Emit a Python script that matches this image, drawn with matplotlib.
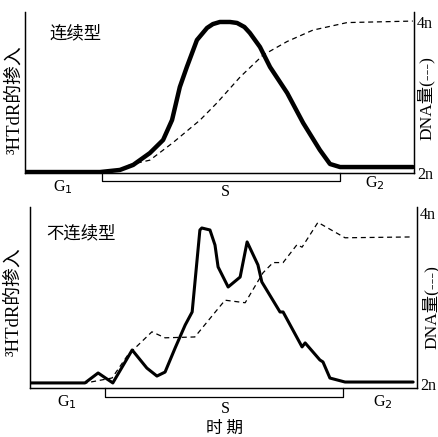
import matplotlib
matplotlib.use('Agg')
import matplotlib.pyplot as plt

plt.rcParams['font.family'] = ['Liberation Serif', 'Noto Sans CJK SC']

# 连续型: time (0-100), 3HTdR incorporation (0-100), DNA content (n)
t_cont_inc = [0.0, 19.3, 24.4, 27.8, 32.1, 35.5, 37.8, 39.8, 41.6, 44.2, 46.8, 48.3,
              50.1, 52.7, 54.5, 56.4, 57.8, 60.4, 63.0, 67.4, 71.5, 75.8, 78.4, 81.0, 99.7]
v_cont_inc = [0.6, 0.6, 1.9, 5.0, 12.4, 20.5, 32.9, 53.4, 65.8, 82.6, 90.1, 92.5,
              93.8, 93.8, 93.2, 90.7, 87.0, 78.3, 65.8, 49.7, 31.1, 14.3, 5.6, 3.7, 3.7]
t_cont_dna = [0.0, 24.4, 27.0, 32.1, 38.0, 45.0, 49.4, 55.3, 61.2, 67.4, 74.0, 82.8, 99.7]
v_cont_dna = [2.03, 2.03, 2.11, 2.17, 2.40, 2.70, 2.93, 3.27, 3.56, 3.74, 3.89, 3.99, 4.01]

# 不连续型
t_disc_inc = [0.0, 14.2, 17.6, 21.4, 26.4, 30.2, 32.8, 34.9, 37.5, 40.1, 41.9, 43.9, 44.4,
              46.5, 47.8, 48.6, 51.2, 54.3, 56.1, 58.9, 59.9, 64.6, 65.4, 70.3, 71.1,
              74.9, 75.7, 77.5, 81.4, 99.0]
v_disc_inc = [2.8, 2.8, 8.3, 2.8, 21.0, 11.0, 6.6, 8.8, 22.1, 34.8, 42.0, 87.3, 88.4,
              87.3, 79.0, 66.9, 55.8, 61.3, 80.7, 68.0, 58.6, 42.0, 42.0, 22.7, 24.9,
              15.5, 14.4, 5.5, 3.3, 3.3]
t_disc_dna = [0.0, 14.2, 21.2, 25.3, 31.5, 34.9, 42.6, 47.3, 50.4, 55.6, 60.2, 62.8,
              65.4, 69.0, 70.3, 74.4, 81.4, 99.0]
v_disc_dna = [2.01, 2.01, 2.07, 2.34, 2.61, 2.54, 2.55, 2.81, 2.98, 2.95, 3.30, 3.42,
              3.42, 3.63, 3.60, 3.89, 3.71, 3.72]

# phases (start, end of S) and label positions
s_phase_top = [19.8, 81.0]
s_phase_bot = [19.4, 80.9]
phase_labels = ['G$_1$', 'S', 'G$_2$']
phase_pos_top = [9.8, 51.4, 90.0]
phase_pos_bot = [9.6, 50.4, 91.2]

W, H = 439, 437
fig = plt.figure(figsize=(W / 100, H / 100), dpi=100)


def px(x, y):
    return x / W, 1 - y / H


def panel(rect, t_inc, v_inc, lw, t_dna, v_dna, dna_lim, s_phase, lab_pos, lab_y,
          title, title_xy):
    ax = fig.add_axes(rect)
    ax.plot(t_inc, v_inc, color='black', lw=lw, solid_joinstyle='round', solid_capstyle='round')
    ax.set_xlim(0, 100)
    ax.set_ylim(0, 100)
    ax2 = ax.twinx()
    ax2.plot(t_dna, v_dna, color='black', lw=0.9, ls=(0, (4, 3)))
    ax2.set_ylim(*dna_lim)
    for a in (ax, ax2):
        a.spines['top'].set_visible(False)
        for s in a.spines.values():
            s.set_linewidth(0.9)
    ax.set_xticks([])
    ax.set_yticks([])
    ax2.set_yticks([2, 4])
    ax2.set_yticklabels(['2n', '4n'])
    ax2.tick_params(axis='y', length=0, pad=2, labelsize=11.5)
    # S phase bracket below the axis
    ax.plot([s_phase[0], s_phase[0], s_phase[1], s_phase[1]], [0, -5, -5, 0],
            color='black', lw=0.9, clip_on=False)
    for lab, xp, yp in zip(phase_labels, lab_pos, lab_y):
        ax.text(xp, yp, lab, ha='center', va='center', fontsize=11.5,
                family='Liberation Serif')
    fig.text(*px(*title_xy), title, ha='left', va='center', fontsize=12.5,
             family=['Noto Sans CJK SC'])
    return ax


panel([25 / W, 1 - 173 / H, 389 / W, 161 / H], t_cont_inc, v_cont_inc, 3.2,
      t_cont_dna, v_cont_dna, (2.0, 4.13), s_phase_top, phase_pos_top, [-8.5, -12, -6.5],
      '连续型', (50, 33))
panel([30 / W, 1 - 388 / H, 387 / W, 181 / H], t_disc_inc, v_disc_inc, 2.2,
      t_disc_dna, v_disc_dna, (1.953, 4.07), s_phase_bot, phase_pos_bot, [-8, -11.5, -8],
      '不连续型', (46, 233))

fig.text(*px(14, 100), '³HTdR的掺入', rotation=90, ha='center', va='center', fontsize=13.5)
fig.text(*px(13, 302), '³HTdR的掺入', rotation=90, ha='center', va='center', fontsize=13.5)
fig.text(*px(426, 98), 'DNA量(---)', rotation=90, ha='center', va='center', fontsize=12.5)
fig.text(*px(431, 307), 'DNA量(---)', rotation=90, ha='center', va='center', fontsize=12.5)
fig.text(*px(225, 428), '时 期', ha='center', va='center', fontsize=12,
         family=['Noto Sans CJK SC'])

fig.savefig('out.png', dpi=100)
